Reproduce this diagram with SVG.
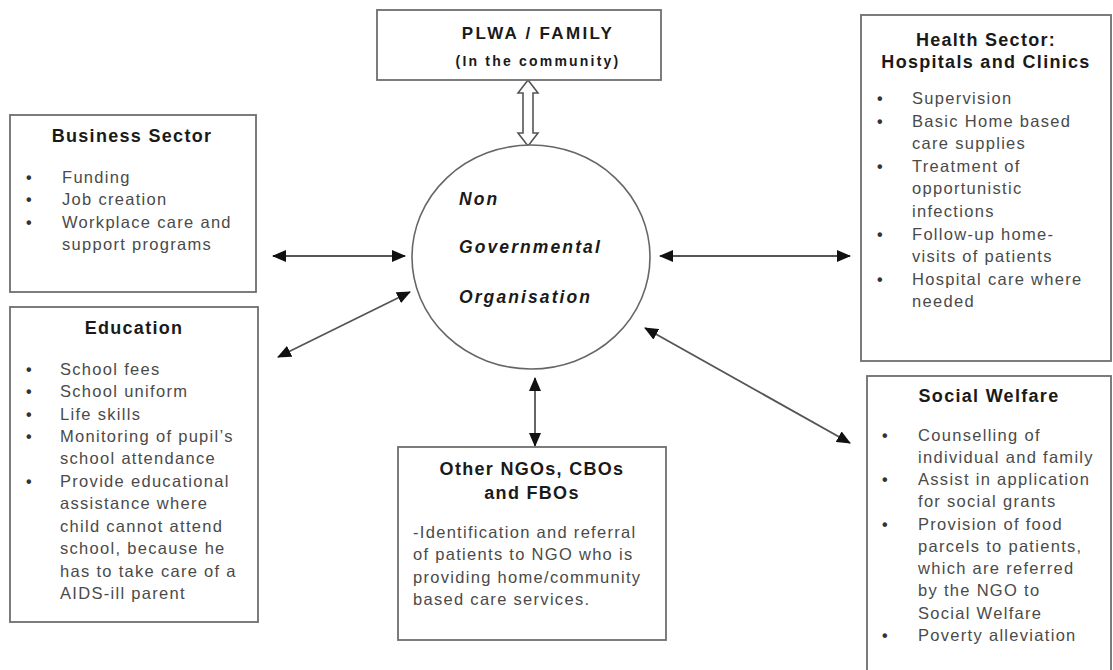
<svg xmlns="http://www.w3.org/2000/svg" width="1113" height="670" viewBox="0 0 1113 670">
<style>
.box{fill:#fff;stroke:#6e6e6e;stroke-width:1.8}
.t{font-family:"Liberation Sans",Arial,sans-serif;font-weight:bold;font-size:18px;fill:#1a1a1a;letter-spacing:1.3px;text-anchor:middle}
.b{font-family:"Liberation Sans",Arial,sans-serif;font-size:16.5px;fill:#4a4a4a;letter-spacing:1.3px}
.d{font-family:"Liberation Sans",Arial,sans-serif;font-size:16px;font-weight:bold;fill:#333}
.c{font-family:"Liberation Sans",Arial,sans-serif;font-weight:bold;font-style:italic;font-size:17.5px;fill:#1a1a1a;letter-spacing:2.1px}
.ln{stroke:#555;stroke-width:1.8;fill:none;marker-start:url(#ah);marker-end:url(#ah)}
</style>
<defs>
<marker id="ah" viewBox="0 0 14 12" refX="13" refY="6" markerWidth="14" markerHeight="12" markerUnits="userSpaceOnUse" orient="auto-start-reverse">
<path d="M0,0 L14,6 L0,12 Z" fill="#111"/>
</marker>
</defs>
<rect width="1113" height="670" fill="#fff"/>

<g id="connectors">
<path d="M528,80 L538,93 L533,93 L533,133 L538,133 L528,146 L518,133 L523,133 L523,93 L518,93 Z" fill="#fff" stroke="#555" stroke-width="1.6"/>
<line class="ln" x1="273" y1="256" x2="405" y2="256"/>
<line class="ln" x1="278" y1="357" x2="410" y2="292"/>
<line class="ln" x1="660" y1="256" x2="850" y2="256"/>
<line class="ln" x1="645" y1="328" x2="850" y2="443"/>
<line class="ln" x1="535" y1="378" x2="535" y2="446"/>
</g>

<g id="plwa">
<rect class="box" x="377" y="10" width="284" height="70"/>
<text class="t" x="538" y="39" style="font-size:17px;letter-spacing:2.3px">PLWA / FAMILY</text>
<text class="t" x="538" y="66" style="font-size:14px;letter-spacing:2.2px">(In the community)</text>
</g>

<g id="ngo">
<ellipse cx="531" cy="257" rx="119" ry="112" fill="#fff" stroke="#666" stroke-width="1.6"/>
<text class="c" x="459" y="205">Non</text>
<text class="c" x="459" y="253">Governmental</text>
<text class="c" x="459" y="303">Organisation</text>
</g>

<g id="business">
<rect class="box" x="10" y="115" width="246" height="177"/>
<text class="t" x="132" y="142">Business Sector</text>
<g class="d"><text x="26" y="183">•</text><text x="26" y="205">•</text><text x="26" y="228">•</text></g>
<g class="b">
<text x="62" y="183">Funding</text>
<text x="62" y="205">Job creation</text>
<text x="62" y="228">Workplace care and</text>
<text x="62" y="250">support programs</text>
</g>
</g>

<g id="education">
<rect class="box" x="10" y="307" width="248" height="315"/>
<text class="t" x="134" y="334">Education</text>
<g class="d"><text x="26" y="375">•</text><text x="26" y="397">•</text><text x="26" y="420">•</text><text x="26" y="442">•</text><text x="26" y="487">•</text></g>
<g class="b">
<text x="60" y="375">School fees</text>
<text x="60" y="397">School uniform</text>
<text x="60" y="420">Life skills</text>
<text x="60" y="442">Monitoring of pupil’s</text>
<text x="60" y="464">school attendance</text>
<text x="60" y="487">Provide educational</text>
<text x="60" y="509">assistance where</text>
<text x="60" y="532">child cannot attend</text>
<text x="60" y="554">school, because  he</text>
<text x="60" y="577">has to take care of a</text>
<text x="60" y="599">AIDS-ill parent</text>
</g>
</g>

<g id="health">
<rect class="box" x="861" y="15" width="250" height="346"/>
<text class="t" x="986" y="46">Health Sector:</text>
<text class="t" x="986" y="68">Hospitals and Clinics</text>
<g class="d"><text x="877" y="104">•</text><text x="877" y="127">•</text><text x="877" y="172">•</text><text x="877" y="240">•</text><text x="877" y="285">•</text></g>
<g class="b">
<text x="912" y="104">Supervision</text>
<text x="912" y="127">Basic Home based</text>
<text x="912" y="149">care supplies</text>
<text x="912" y="172">Treatment of</text>
<text x="912" y="194">opportunistic</text>
<text x="912" y="217">infections</text>
<text x="912" y="240">Follow-up home-</text>
<text x="912" y="262">visits of patients</text>
<text x="912" y="285">Hospital care where</text>
<text x="912" y="307">needed</text>
</g>
</g>

<g id="social">
<rect class="box" x="867" y="376" width="244" height="300"/>
<text class="t" x="989" y="402">Social Welfare</text>
<g class="d"><text x="882" y="441">•</text><text x="882" y="485">•</text><text x="882" y="530">•</text><text x="882" y="641">•</text></g>
<g class="b">
<text x="918" y="441">Counselling of</text>
<text x="918" y="463">individual and family</text>
<text x="918" y="485">Assist in application</text>
<text x="918" y="507">for social grants</text>
<text x="918" y="530">Provision of food</text>
<text x="918" y="552">parcels to patients,</text>
<text x="918" y="574">which are referred</text>
<text x="918" y="596">by the NGO to</text>
<text x="918" y="619">Social Welfare</text>
<text x="918" y="641">Poverty alleviation</text>
</g>
</g>

<g id="other">
<rect class="box" x="398" y="447" width="268" height="193"/>
<text class="t" x="532" y="475">Other NGOs, CBOs</text>
<text class="t" x="532" y="499">and FBOs</text>
<g class="b">
<text x="413" y="538">-Identification and referral</text>
<text x="413" y="560">of patients to NGO who is</text>
<text x="413" y="583">providing home/community</text>
<text x="413" y="605">based care services.</text>
</g>
</g>
</svg>
